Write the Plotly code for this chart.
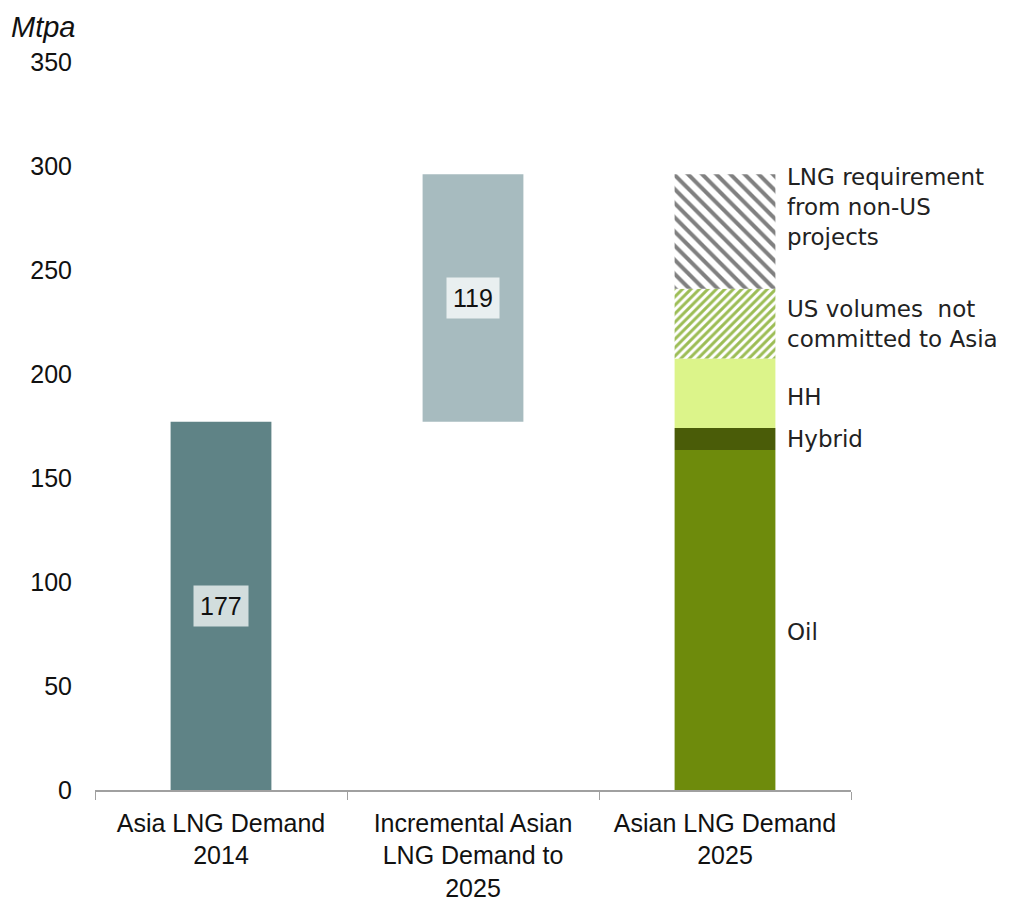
import plotly.graph_objects as go

categories = ["Asia LNG Demand<br>2014", "Incremental Asian<br>LNG Demand to<br>2025", "Asian LNG Demand<br>2025"]

demand_2014 = 177
incremental = 119

seg_names = ["Oil", "Hybrid", "HH", "US volumes  not<br>committed to Asia", "LNG requirement<br>from non-US<br>projects"]
seg_values = [163.5, 10.5, 33.5, 33.5, 55.0]

y_ticks = [0, 50, 100, 150, 200, 250, 300, 350]

fig = go.Figure()

BW = 0.4
fig.add_trace(go.Bar(x=[categories[0]], y=[demand_2014], base=[0], width=BW,
                     marker=dict(color="#5f8386", line=dict(width=0)), showlegend=False))
fig.add_trace(go.Bar(x=[categories[1]], y=[incremental], base=[demand_2014], width=BW,
                     marker=dict(color="#a7bbbf", line=dict(width=0)), showlegend=False))

seg_styles = [
    dict(color="#6e8b0c"),
    dict(color="#4a5c08"),
    dict(color="#dcf48a"),
    dict(color="white", pattern=dict(shape="/", fgcolor="#9cbd55", fgopacity=1, bgcolor="white", size=6, solidity=0.5)),
    dict(color="white", pattern=dict(shape="\\", fgcolor="#808080", fgopacity=1, bgcolor="white", size=10, solidity=0.4)),
]

base = 0.0
bases = []
for name, val, st in zip(seg_names, seg_values, seg_styles):
    bases.append(base)
    m = dict(st)
    m["line"] = dict(width=0)
    fig.add_trace(go.Bar(x=[categories[2]], y=[val], base=[base], width=BW,
                         marker=m, showlegend=False, name=name))
    base += val

annotations = []
annotations.append(dict(x=categories[0], y=demand_2014 / 2, text=str(demand_2014), showarrow=False,
                        font=dict(family="Liberation Sans, Arial", size=25, color="#111"),
                        bgcolor="#d2dddd", borderpad=6))
annotations.append(dict(x=categories[1], y=demand_2014 + incremental / 2, text=str(incremental), showarrow=False,
                        font=dict(family="Liberation Sans, Arial", size=25, color="#111"),
                        bgcolor="#e9eff0", borderpad=6))

label_font = dict(family="DejaVu Sans", size=23, color="#222")
for i, (name, val) in enumerate(zip(seg_names, seg_values)):
    if i == len(seg_names) - 1:
        y = bases[i] + val
        yanchor = "top"
        yshift = 12
    else:
        y = bases[i] + val / 2
        yanchor = "middle"
        yshift = 0
        if name == "Oil":
            yshift = -12
        if name == "HH":
            yshift = -4
    annotations.append(dict(x=2.24, xref="x", y=y, yref="y", text=name, showarrow=False,
                            xanchor="left", yanchor=yanchor, yshift=yshift, align="left",
                            font=label_font))

annotations.append(dict(x=-0.114, xref="paper", y=1.073, yref="paper", text="<i>Mtpa</i>", showarrow=False,
                        xanchor="left", yanchor="top",
                        font=dict(family="Liberation Sans, Arial", size=29, color="#111")))

fig.update_layout(
    width=1021, height=901,
    margin=dict(l=87, r=178, t=54, b=119, autoexpand=False),
    plot_bgcolor="white", paper_bgcolor="white",
    barmode="overlay",
    annotations=annotations,
)
fig.update_xaxes(
    type="category", range=[-0.5, 2.5], tickangle=0,
    showline=True, linecolor="#a0a0a0", linewidth=1.5,
    ticks="outside", tickson="boundaries", ticklen=8, tickcolor="#a0a0a0",
    ticklabelstandoff=10,
    tickfont=dict(family="Liberation Sans, Arial", size=25, color="#111"),
    showgrid=False, zeroline=False,
)
fig.update_yaxes(
    range=[0, 350], tickvals=y_ticks, ticktext=[str(v) for v in y_ticks],
    showgrid=False, zeroline=False, showline=False,
    ticks="", ticklabelstandoff=22,
    tickfont=dict(family="Liberation Sans, Arial", size=25, color="#111"),
)

fig.write_html("out.html")
